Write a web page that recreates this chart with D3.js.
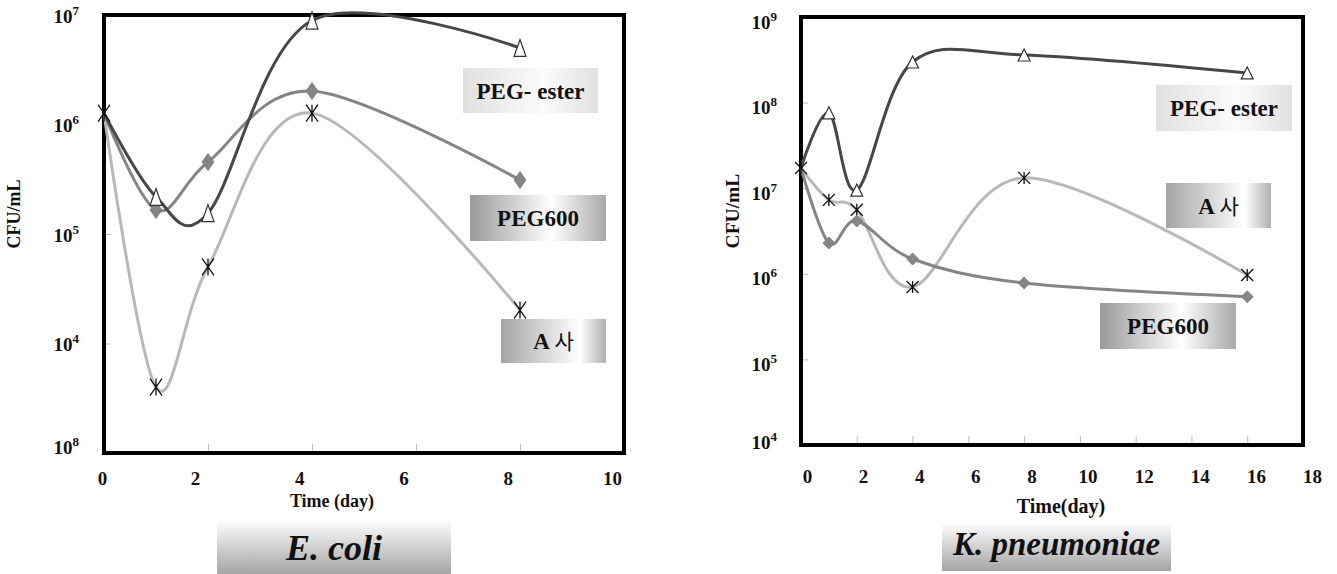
<!DOCTYPE html>
<html><head><meta charset="utf-8">
<script src="https://cdn.jsdelivr.net/npm/d3@7"></script>
<style>body{margin:0;background:#fff}svg{display:block}</style></head>
<body>
<svg id="c" width="1337" height="574"></svg>
<script>
// ---------- data ----------
const ecDays = [0, 1, 2, 4, 8];
const ecPegEster = [1.27e6, 2.18e5, 1.55e5, 8.9e6, 5.0e6];
const ecPeg600 = [1.27e6, 1.66e5, 4.54e5, 2.02e6, 3.11e5];
const ecA = [1.27e6, 4.0e3, 5.0e4, 1.27e6, 2.02e4];

const kpDays = [0, 1, 2, 4, 8, 16];
const kpPegEster = [1.72e7, 7.6e7, 9.5e6, 2.98e8, 3.6e8, 2.22e8];
const kpPeg600 = [1.72e7, 2.29e6, 4.14e6, 1.49e6, 7.8e5, 5.4e5];
const kpA = [1.72e7, 7.3e6, 5.6e6, 7.0e5, 1.32e7, 9.7e5];

const ecXTicks = [0, 2, 4, 6, 8, 10];
const ecYTicks = [1e3, 1e4, 1e5, 1e6, 1e7];
const ecYExp = ["8", "4", "5", "6", "7"];
const kpXTicks = [0, 2, 4, 6, 8, 10, 12, 14, 16, 18];
const kpYTicks = [1e4, 1e5, 1e6, 1e7, 1e8, 1e9];
const kpYExp = ["4", "5", "6", "7", "8", "9"];

const seriesNames = ["PEG- ester", "PEG600", "A 사"];

// ---------- drawing ----------
const svg = d3.select("#c");
const defs = svg.append("defs");
function hGrad(id, stops) {
  const g = defs.append("linearGradient").attr("id", id).attr("x1", 0).attr("x2", 1).attr("y1", 0).attr("y2", 0);
  stops.forEach(s => g.append("stop").attr("offset", s[0]).attr("stop-color", s[1]));
}
function vGrad(id, stops) {
  const g = defs.append("linearGradient").attr("id", id).attr("x1", 0).attr("x2", 0).attr("y1", 0).attr("y2", 1);
  stops.forEach(s => g.append("stop").attr("offset", s[0]).attr("stop-color", s[1]));
}
hGrad("gLight", [[0, "#e0e0e0"], [0.6, "#fbfbfb"], [1, "#e0e0e0"]]);
hGrad("gMid", [[0, "#999"], [0.6, "#fff"], [1, "#a8a8a8"]]);
hGrad("gA", [[0, "#a4a4a4"], [0.75, "#fff"], [1, "#b0b0b0"]]);
vGrad("gTitle", [[0, "#fcfcfc"], [1, "#a4a4a4"]]);

const serif = "'Liberation Serif','Times New Roman',serif";
const colors = ["#474747", "#858585", "#b8b8b8"];

function markerPath(type, w, h) {
  if (type === "tri") return `M0,${-h/2}L${w/2},${h/2}L${-w/2},${h/2}Z`;
  if (type === "dia") return `M0,${-h/2}L${w/2},0L0,${h/2}L${-w/2},0Z`;
  return `M${-w/2},${-h/2}L${w/2},${h/2}M${w/2},${-h/2}L${-w/2},${h/2}M0,${-h/2}L0,${h/2}`;
}

function chart(cfg) {
  const g = svg.append("g");
  const x = d3.scaleLinear().domain(cfg.xDomain).range([cfg.left, cfg.right]);
  const xl = d3.scaleLinear().domain(cfg.xLabelDomain).range(cfg.xLabelRange);
  const y = d3.scaleLog().domain(cfg.yDomain).range([cfg.bottom, cfg.top]);

  // inner ticks
  const xt = g.append("g").attr("transform", `translate(0,${cfg.bottom})`)
    .call(d3.axisTop(x).tickValues(cfg.xTicks.slice(1, -1)).tickSize(9).tickFormat(""));
  xt.select(".domain").remove();
  xt.selectAll("line").attr("stroke", "#bbb").attr("stroke-width", 1);
  const yt = g.append("g").attr("transform", `translate(${cfg.left},0)`)
    .call(d3.axisRight(y).tickValues(cfg.yTicks.slice(1, -1)).tickSize(7).tickFormat(""));
  yt.select(".domain").remove();
  yt.selectAll("line").attr("stroke", "#bbb").attr("stroke-width", 1);

  // x labels
  const xa = g.append("g").attr("transform", `translate(0,${cfg.bottom})`)
    .call(d3.axisBottom(xl).tickValues(cfg.xTicks).tickSize(0).tickFormat(d3.format("d")));
  xa.select(".domain").remove();
  xa.selectAll("text").attr("y", cfg.xLabelY).attr("dy", 0)
    .attr("font-family", serif).attr("font-weight", "bold").attr("font-size", 19).attr("fill", "#111");

  // y labels
  const ya = g.append("g").attr("transform", `translate(${cfg.left},0)`)
    .call(d3.axisLeft(y).tickValues(cfg.yTicks).tickSize(0).tickPadding(cfg.yPad));
  ya.select(".domain").remove();
  ya.selectAll("text").each(function(d, i) {
    const t = d3.select(this).text("").attr("dy", i === 0 ? cfg.yLabelDyBottom : cfg.yLabelDy)
      .attr("font-family", serif).attr("font-weight", "bold").attr("font-size", 19).attr("fill", "#111");
    t.append("tspan").text("10");
    t.append("tspan").attr("font-size", 13).attr("dy", -8).text(cfg.yExp[i]);
  });

  // frame
  g.append("rect").attr("x", cfg.left).attr("y", cfg.top)
    .attr("width", cfg.right - cfg.left).attr("height", cfg.bottom - cfg.top)
    .attr("fill", "none").attr("stroke", "#000").attr("stroke-width", 4);

  // lines
  const line = d3.line().x(d => x(d[0])).y(d => y(d[1])).curve(d3.curveCatmullRom.alpha(0));
  const order = [2, 1, 0];
  order.forEach(si => {
    const pts = cfg.days.map((d, i) => [d, cfg.series[si][i]]);
    g.append("path").attr("d", line(pts)).attr("fill", "none")
      .attr("stroke", colors[si]).attr("stroke-width", 3);
  });
  // markers
  const types = ["tri", "dia", "ast"];
  order.forEach(si => {
    cfg.days.forEach((d, i) => {
      const t = (i === 0) ? "ast" : types[si];
      if (i === 0 && si !== 2) return;
      const p = g.append("path").attr("d", markerPath(t, cfg.mw, cfg.mh))
        .attr("transform", `translate(${x(d)},${y(cfg.series[si][i])})`);
      if (t === "tri") p.attr("fill", "#fff").attr("stroke", "#333").attr("stroke-width", 1.2);
      else if (t === "dia") p.attr("fill", "#858585").attr("stroke", "#7a7a7a").attr("stroke-width", 0.8);
      else p.attr("fill", "none").attr("stroke", "#111").attr("stroke-width", 1.3);
    });
  });

  // legend boxes
  cfg.boxes.forEach(b => {
    g.append("rect").attr("x", b.x).attr("y", b.y).attr("width", b.w).attr("height", b.h)
      .attr("fill", `url(#${b.grad})`);
    const t = g.append("text").attr("x", b.x + b.w / 2).attr("y", b.y + b.h / 2 + 8)
      .attr("text-anchor", "middle").attr("font-family", serif).attr("font-weight", "bold")
      .attr("font-size", 23).attr("fill", "#111");
    const name = seriesNames[b.s];
    if (b.s === 2) {
      t.append("tspan").text("A ");
      t.append("tspan").attr("font-family", "'Noto Sans CJK KR',sans-serif").attr("font-weight", 400)
        .attr("font-size", 21).text("사");
    } else t.text(name);
  });

  // axis titles
  g.append("text").attr("x", cfg.xTitle[0]).attr("y", cfg.xTitle[1]).attr("text-anchor", "middle")
    .attr("font-family", serif).attr("font-weight", "bold").attr("font-size", cfg.xTitleSize)
    .attr("fill", "#111").text(cfg.xTitleText);
  g.append("text").attr("transform", `translate(${cfg.yTitle[0]},${cfg.yTitle[1]}) rotate(-90)`)
    .attr("text-anchor", "middle").attr("font-family", serif).attr("font-weight", "bold")
    .attr("font-size", cfg.yTitleSize).attr("fill", "#111").text("CFU/mL");

  // organism title
  const tb = cfg.titleBox;
  g.append("rect").attr("x", tb.x).attr("y", tb.y).attr("width", tb.w).attr("height", tb.h)
    .attr("fill", "url(#gTitle)");
  g.append("text").attr("x", tb.x + tb.w / 2).attr("y", tb.base).attr("text-anchor", "middle")
    .attr("font-family", serif).attr("font-weight", "bold").attr("font-style", "italic")
    .attr("font-size", tb.size).attr("fill", "#111").text(tb.text);
}

chart({
  left: 104, right: 624, top: 15, bottom: 453,
  xDomain: [0, 10], xLabelDomain: [0, 2, 10], xLabelRange: [102, 195, 612], xLabelY: 32,
  yDomain: [1e3, 1e7], xTicks: ecXTicks, yTicks: ecYTicks, yExp: ecYExp, yPad: 25,
  yLabelDy: 7, yLabelDyBottom: 0,
  days: ecDays, series: [ecPegEster, ecPeg600, ecA], mw: 12, mh: 17,
  boxes: [
    {s: 0, x: 463, y: 68, w: 135, h: 45, grad: "gLight"},
    {s: 1, x: 470, y: 195, w: 136, h: 46, grad: "gMid"},
    {s: 2, x: 501, y: 319, w: 105, h: 44, grad: "gA"}
  ],
  xTitle: [332, 507], xTitleText: "Time (day)", xTitleSize: 18,
  yTitle: [20, 214], yTitleSize: 18,
  titleBox: {x: 217, y: 521, w: 234, h: 53, base: 560, size: 36, text: "E. coli"}
});

chart({
  left: 801, right: 1303, top: 17, bottom: 445,
  xDomain: [0, 18], xLabelDomain: [0, 18], xLabelRange: [807, 1312], xLabelY: 38,
  yDomain: [1e4, 1e9], xTicks: kpXTicks, yTicks: kpYTicks, yExp: kpYExp, yPad: 24,
  yLabelDy: 11, yLabelDyBottom: 3,
  days: kpDays, series: [kpPegEster, kpPeg600, kpA], mw: 12, mh: 12,
  boxes: [
    {s: 0, x: 1156, y: 85, w: 136, h: 46, grad: "gLight"},
    {s: 2, x: 1166, y: 183, w: 105, h: 45, grad: "gA"},
    {s: 1, x: 1100, y: 303, w: 136, h: 46, grad: "gMid"}
  ],
  xTitle: [1061, 513], xTitleText: "Time(day)", xTitleSize: 20,
  yTitle: [739, 211], yTitleSize: 19.5,
  titleBox: {x: 942, y: 524, w: 229, h: 47, base: 555, size: 33, text: "K. pneumoniae"}
});
</script>
</body></html>
